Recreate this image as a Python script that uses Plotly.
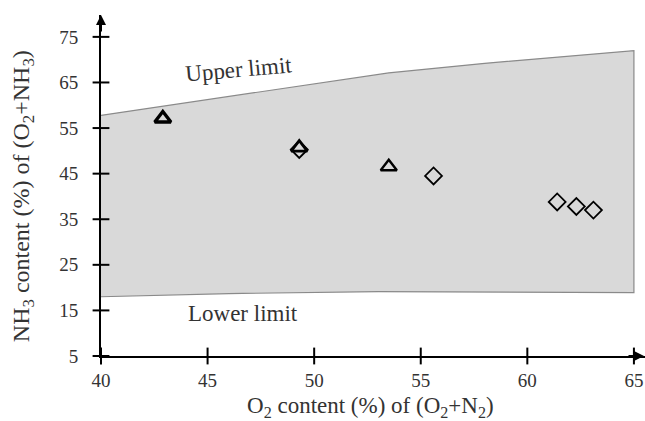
import plotly.graph_objects as go

# ---- data ----
upper_x = [40, 45, 49, 53.5, 58, 65]
upper_y = [57.8, 61.3, 64.1, 67.1, 69.2, 72.0]
lower_x = [40, 46, 53, 65]
lower_y = [18.0, 18.7, 19.1, 18.9]

tri_x = [42.9, 49.3, 53.5]
tri_y = [57.1, 50.7, 46.5]
dia_x = [49.3, 55.6, 61.4, 62.3, 63.1]
dia_y = [50.3, 44.5, 38.8, 37.8, 37.0]

x_ticks = [40, 45, 50, 55, 60, 65]
y_ticks = [5, 15, 25, 35, 45, 55, 65, 75]

FONT = "Liberation Serif"

fig = go.Figure()

# shaded feasible region
poly_x = upper_x + lower_x[::-1]
poly_y = upper_y + lower_y[::-1]
fig.add_trace(go.Scatter(
    x=poly_x, y=poly_y, mode="lines", fill="toself",
    fillcolor="#d9d9d9", line=dict(color="#8a8a8a", width=1.2),
    hoverinfo="skip", showlegend=False))

# diamonds
fig.add_trace(go.Scatter(
    x=dia_x, y=dia_y, mode="markers", showlegend=False,
    marker=dict(symbol="diamond-open", size=13, color="black",
                line=dict(color="black", width=1.8))))

# triangles (first one drawn bolder)
fig.add_trace(go.Scatter(
    x=tri_x, y=tri_y, mode="markers", showlegend=False,
    marker=dict(symbol="triangle-up-open", size=14, color="black",
                line=dict(color="black", width=[3.4, 2.8, 2.4]))))

# crossing tick marks on the axes
fig.add_trace(go.Scatter(
    x=x_ticks, y=[y_ticks[0]] * len(x_ticks), mode="markers",
    showlegend=False, hoverinfo="skip", cliponaxis=False,
    marker=dict(symbol="line-ns-open", size=12, color="black",
                line=dict(color="black", width=2))))
fig.add_trace(go.Scatter(
    x=[x_ticks[0]] * len(y_ticks), y=y_ticks, mode="markers",
    showlegend=False, hoverinfo="skip", cliponaxis=False,
    marker=dict(symbol="line-ew-open", size=12, color="black",
                line=dict(color="black", width=2))))

fig.update_xaxes(
    range=[40, 65.52], tickvals=x_ticks, ticktext=[str(v) for v in x_ticks],
    showline=True, linecolor="black", linewidth=2, ticks="outside",
    ticklen=6, tickwidth=2, tickcolor="rgba(0,0,0,0)", showgrid=False, zeroline=False,
    automargin=False,
    tickfont=dict(family=FONT, size=19, color="#333"))
fig.update_yaxes(
    range=[5, 79.8], tickvals=y_ticks, ticktext=[str(v) for v in y_ticks],
    showline=True, linecolor="black", linewidth=2, ticks="outside",
    ticklen=6, tickwidth=2, tickcolor="rgba(0,0,0,0)", showgrid=False, zeroline=False,
    ticklabelstandoff=11, automargin=False,
    tickfont=dict(family=FONT, size=19, color="#333"))

annotations = [
    # axis arrows
    dict(x=40, y=1, xref="x", yref="paper", ax=0, ay=18,
         showarrow=True, arrowhead=2, arrowsize=1, arrowwidth=2, arrowcolor="black", text=""),
    dict(x=1, y=5, xref="paper", yref="y", ax=-18, ay=0,
         showarrow=True, arrowhead=2, arrowsize=1, arrowwidth=2, arrowcolor="black", text=""),
    # region labels
    dict(x=46.43, y=67.9, xref="x", yref="y", text="Upper limit", showarrow=False,
         textangle=-5, font=dict(family=FONT, size=23, color="#333")),
    dict(x=46.66, y=14.3, xref="x", yref="y", text="Lower limit", showarrow=False,
         font=dict(family=FONT, size=23, color="#333")),
    # axis titles
    dict(x=0.496, y=-0.149, xref="paper", yref="paper", xanchor="center", yanchor="middle",
         text="O<sub>2</sub> content (%) of (O<sub>2</sub>+N<sub>2</sub>)",
         showarrow=False, font=dict(family=FONT, size=23, color="#333")),
    dict(x=-0.142, y=0.468, xref="paper", yref="paper", textangle=-90,
         xanchor="center", yanchor="middle",
         text="NH<sub>3</sub> content (%) of (O<sub>2</sub>+NH<sub>3</sub>)",
         showarrow=False, font=dict(family=FONT, size=24, color="#333")),
]

fig.update_layout(
    width=645, height=421,
    margin=dict(l=101, r=0, t=15, b=65, autoexpand=False),
    plot_bgcolor="white", paper_bgcolor="white",
    annotations=annotations, showlegend=False)

# remove the default page margin so the figure fills the window exactly
fig.write_html(
    "out.html",
    config={"displayModeBar": False},
    post_script="document.body.style.margin='0';document.body.style.overflow='hidden';"
                "document.documentElement.style.overflow='hidden';")
